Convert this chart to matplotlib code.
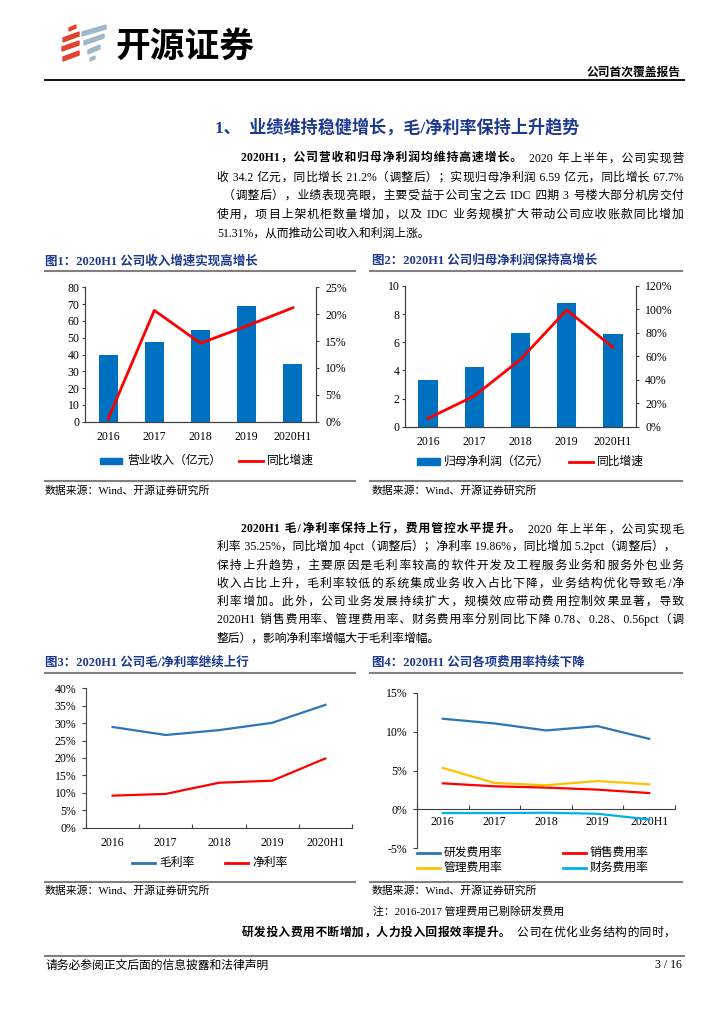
import numpy as np
import matplotlib.pyplot as plt
from matplotlib.lines import Line2D
from matplotlib.patches import Rectangle, Polygon

# data
years = ['2016', '2017', '2018', '2019', '2020H1']
revenue = [39.5, 47.6, 54.6, 68.7, 34.2]          # 营业收入（亿元）
revenue_yoy = [0.5, 20.7, 14.6, 17.8, 21.2]       # 同比增速 %
net_profit = [3.32, 4.22, 6.68, 8.77, 6.59]       # 归母净利润（亿元）
net_profit_yoy = [7.1, 26.2, 57.4, 99.5, 67.7]    # 同比增速 %
gross_margin = [28.9, 26.6, 28.0, 30.1, 35.25]    # 毛利率 %
net_margin = [9.2, 9.7, 12.9, 13.5, 19.86]        # 净利率 %
rd_rate = [11.65, 11.05, 10.15, 10.7, 9.07]       # 研发费用率 %
sales_rate = [3.35, 2.97, 2.8, 2.54, 2.1]         # 销售费用率 %
admin_rate = [5.33, 3.4, 3.1, 3.65, 3.22]         # 管理费用率 %
fin_rate = [-0.47, -0.47, -0.43, -0.56, -1.29]    # 财务费用率 %

W, H = 724, 1024
FONT = ['Liberation Serif', 'Noto Sans CJK SC', 'DejaVu Sans']
plt.rcParams['font.family'] = FONT
plt.rcParams['axes.unicode_minus'] = False

NAVY = '#1D3A8F'
BAR = '#0070C0'
RED = '#FF0000'
AX = '#404040'
GREY = '#808080'
HS = '\u200a'  # hair space, used to justify body lines
PUNCT = '，。；：、）'

fig = plt.figure(figsize=(7.24, 10.24), dpi=100)
renderer = fig.canvas.get_renderer()


def fx(x):
    return x / W


def fy(y):
    return 1 - y / H


def box(l, t, r, b):
    return [fx(l), fy(b), (r - l) / W, (b - t) / H]


def hline(x0, x1, y, color=GREY, lw=1.5):
    fig.add_artist(Line2D([fx(x0), fx(x1)], [fy(y), fy(y)], color=color, lw=lw,
                          transform=fig.transFigure))


def label(x, y, s, size=8.5, **kw):
    kw.setdefault('va', 'center')
    fig.text(fx(x), fy(y), s, fontsize=size, **kw)


def measure(s, size, bold):
    t = fig.text(0, 0, s, fontsize=size, fontweight='bold' if bold else 'normal')
    w = t.get_window_extent(renderer).width
    t.remove()
    return w


def is_cjk(c):
    return ord(c) > 0x2E80


def slots(s):
    return [i for i in range(len(s) - 1)
            if is_cjk(s[i]) or is_cjk(s[i + 1]) or s[i] == ' ' or s[i + 1] == ' ']


def text_line(segs, x0, y, x1=None, size=8.5, color='black'):
    # one Text per segment; justified lines get hair spaces between characters
    em = size * 100 / 72
    hs_w = (measure('a' + HS * 20 + 'a', size, False) - measure('aa', size, False)) / 20
    if segs[0][0][0] == '（':
        x0 += 0.5 * em
    tails = [0.5 * em if s[-1] in PUNCT else 0 for s, b in segs]
    widths = [measure(s, size, b) for s, b in segs]
    out = [s for s, b in segs]
    joint = 0
    if x1 is not None:
        end = x1 - (0.7 * em if segs[-1][0][-1] in PUNCT else 0)
        natural = sum(widths) + sum(tails[:-1])
        n_slots = sum(len(slots(s)) for s, b in segs) + len(segs) - 1
        per = (end - x0 - natural) / hs_w / n_slots
        joint = per * hs_w
        acc = 0.0
        out = []
        for s, b in segs:
            sl = set(slots(s))
            buf = ''
            for i, c in enumerate(s):
                buf += c
                if i in sl:
                    acc += per
                    k = int(round(acc))
                    acc -= k
                    buf += HS * k
            out.append(buf)
        widths = [measure(s, size, b) for s, (_, b) in zip(out, segs)]
    cur = x0
    base = y + 0.36 * em
    for s, (_, bold), w, tail in zip(out, segs, widths, tails):
        fig.text(fx(cur), fy(base), s, fontsize=size, va='baseline', ha='left',
                 fontweight='bold' if bold else 'normal', color=color)
        cur += w + tail + joint


# ---------------- header ----------------
red_logo = '#E1412F'
grey_logo = '#9FB7C9'
for (xl, yl, xr, yr, th, c) in [(69, 31, 76, 28, 3, red_logo), (63, 42, 79, 36, 4, red_logo),
                               (62, 51, 79, 45, 4, red_logo), (63, 61, 79, 55, 4, red_logo),
                               (82, 36, 106, 29, 4, grey_logo), (84, 45, 104, 38, 4, grey_logo),
                               (88, 54, 100, 49, 4, grey_logo), (90, 61, 95, 59, 3, grey_logo)]:
    pts = [(fx(xl), fy(yl)), (fx(xr), fy(yr)), (fx(xr), fy(yr - th)), (fx(xl), fy(yl - th))]
    fig.add_artist(Polygon(pts, closed=True, color=c, transform=fig.transFigure))
label(115, 46, '开源证券', size=25, fontweight='bold', family=['Noto Sans CJK SC'])
label(681, 73, '公司首次覆盖报告', size=8.5, ha='right', fontweight='bold')
hline(45, 684, 80, color='black', lw=1.3)

# ---------------- section 1 ----------------
label(215, 128, '1、  业绩维持稳健增长，毛/净利率保持上升趋势', size=12.3, color=NAVY, fontweight='bold')

para1 = [
    ([('2020H1，公司营收和归母净利润均维持高速增长。', True), ('2020 年上半年，公司实现营', False)], 241, True),
    ([('收 34.2 亿元，同比增长 21.2%（调整后）；实现归母净利润 6.59 亿元，同比增长 67.7%', False)], 217, True),
    ([('（调整后），业绩表现亮眼，主要受益于公司宝之云 IDC 四期 3 号楼大部分机房交付', False)], 217, True),
    ([('使用，项目上架机柜数量增加，以及 IDC 业务规模扩大带动公司应收账款同比增加', False)], 217, True),
    ([('51.31%，从而推动公司收入和利润上涨。', False)], 217, False),
]
for i, (segs, x0, just) in enumerate(para1):
    text_line(segs, x0, 157 + i * 18.8, 684 if just else None)

# ---------------- figure 1 & 2 ----------------
label(45, 261, '图1：2020H1 公司收入增速实现高增长', size=9, color=NAVY, fontweight='bold')
label(372, 261, '图2：2020H1 公司归母净利润保持高增长', size=9, color=NAVY, fontweight='bold')
hline(45, 355, 271)
hline(370, 682, 271)

x = np.arange(len(years))


def bar_line_chart(rect, bars, yoy, ymax, ystep, rmax, rstep, bw):
    ax = fig.add_axes(rect)
    ax.bar(x, bars, width=bw, color=BAR)
    ax.set_xlim(-0.5, 4.5)
    ax.set_ylim(0, ymax)
    ax.set_yticks(np.arange(0, ymax + 0.1, ystep))
    ax.set_xticks(x, years)
    ax.tick_params(axis='x', length=0, pad=7, labelsize=8.5)
    ax.tick_params(axis='y', direction='out', length=2.5, width=0.8, pad=1.5, labelsize=8.5, color=AX)
    axr = ax.twinx()
    axr.plot(x, yoy, color=RED, lw=2)
    axr.set_ylim(0, rmax)
    ticks = np.arange(0, rmax + 0.1, rstep)
    axr.set_yticks(ticks, [f'{int(v)}%' for v in ticks])
    axr.tick_params(axis='y', direction='out', length=2.5, width=0.8, pad=4, labelsize=8.5, color=AX)
    for a in (ax, axr):
        a.spines['top'].set_visible(False)
        for s in ('left', 'bottom', 'right'):
            a.spines[s].set_color(AX)
            a.spines[s].set_linewidth(0.8)
    return ax


bar_line_chart(box(85, 287.3, 316, 421.7), revenue, revenue_yoy, 80, 10, 25, 5, 0.41)
bar_line_chart(box(405, 286, 636, 426.7), net_profit, net_profit_yoy, 10, 2, 120, 20, 0.42)

fig.add_artist(Rectangle((fx(100), fy(464.3)), 22 / W, 6.6 / H, color=BAR, transform=fig.transFigure))
label(127, 461, '营业收入（亿元）')
fig.add_artist(Line2D([fx(239), fx(263)], [fy(461), fy(461)], color=RED, lw=2, transform=fig.transFigure))
label(267, 461, '同比增速')

fig.add_artist(Rectangle((fx(417), fy(465)), 23 / W, 6.6 / H, color=BAR, transform=fig.transFigure))
label(444, 461.7, '归母净利润（亿元）')
fig.add_artist(Line2D([fx(569), fx(593)], [fy(461.7), fy(461.7)], color=RED, lw=2, transform=fig.transFigure))
label(597, 461.7, '同比增速')

hline(45, 355, 481)
hline(370, 682, 481)
label(45, 491, '数据来源：Wind、开源证券研究所', size=7.8)
label(372, 491, '数据来源：Wind、开源证券研究所', size=7.8)

# ---------------- paragraph 2 ----------------
para2 = [
    ([('2020H1 毛/净利率保持上行，费用管控水平提升。', True), ('2020 年上半年，公司实现毛', False)], 241, True),
    ([('利率 35.25%，同比增加 4pct（调整后）；净利率 19.86%，同比增加 5.2pct（调整后），', False)], 217, True),
    ([('保持上升趋势，主要原因是毛利率较高的软件开发及工程服务业务和服务外包业务', False)], 217, True),
    ([('收入占比上升，毛利率较低的系统集成业务收入占比下降，业务结构优化导致毛/净', False)], 217, True),
    ([('利率增加。此外，公司业务发展持续扩大，规模效应带动费用控制效果显著，导致', False)], 217, True),
    ([('2020H1 销售费用率、管理费用率、财务费用率分别同比下降 0.78、0.28、0.56pct（调', False)], 217, True),
    ([('整后），影响净利率增幅大于毛利率增幅。', False)], 217, False),
]
for i, (segs, x0, just) in enumerate(para2):
    text_line(segs, x0, 528 + i * 18.2, 684 if just else None)

# ---------------- figure 3 & 4 ----------------
label(45, 662.7, '图3：2020H1 公司毛/净利率继续上行', size=9, color=NAVY, fontweight='bold')
label(372, 662.7, '图4：2020H1 公司各项费用率持续下降', size=9, color=NAVY, fontweight='bold')
hline(45, 355, 673)
hline(370, 682, 673)


def line_axes(rect, ylo, yhi, ystep):
    ax = fig.add_axes(rect)
    ax.set_xlim(-0.5, 4.5)
    ax.set_ylim(ylo, yhi)
    ticks = np.arange(ylo, yhi + 0.1, ystep)
    ax.set_yticks(ticks, [f'{int(v)}%' for v in ticks])
    ax.set_xticks(x, years)
    ax.set_xticks(np.arange(-0.5, 5, 1), minor=True)
    ax.tick_params(axis='x', which='major', length=0, pad=7, labelsize=8.5)
    ax.tick_params(axis='x', which='minor', direction='in', length=3, width=0.8, color=AX)
    ax.tick_params(axis='y', direction='out', length=3, width=0.8, pad=4, labelsize=8.5, color=AX)
    for s in ('top', 'right'):
        ax.spines[s].set_visible(False)
    for s in ('left', 'bottom'):
        ax.spines[s].set_color(AX)
        ax.spines[s].set_linewidth(0.8)
    return ax


ax3 = line_axes(box(86, 688.3, 352, 827.7), 0, 40, 5)
ax3.plot(x, gross_margin, color='#2E75B6', lw=1.6)
ax3.plot(x, net_margin, color=RED, lw=1.6)

ax4 = line_axes(box(417, 692.7, 675, 848.3), -5, 15, 5)
ax4.spines['bottom'].set_position(('data', 0))
ax4.tick_params(axis='x', which='major', pad=5)
ax4.plot(x, rd_rate, color='#2E75B6', lw=1.6)
ax4.plot(x, sales_rate, color=RED, lw=1.6)
ax4.plot(x, admin_rate, color='#FFC000', lw=1.6)
ax4.plot(x, fin_rate, color='#00B0F0', lw=1.6)

for (x0, y, c, s) in [(132, 863, '#2E75B6', '毛利率'), (225, 863, RED, '净利率'),
                      (417, 853.3, '#2E75B6', '研发费用率'), (563, 853.3, RED, '销售费用率'),
                      (417, 868.3, '#FFC000', '管理费用率'), (563, 868.3, '#00B0F0', '财务费用率')]:
    fig.add_artist(Line2D([fx(x0), fx(x0 + 23)], [fy(y), fy(y)], color=c, lw=2, transform=fig.transFigure))
    label(x0 + 27, y, s)

hline(45, 355, 882)
hline(370, 682, 882)
label(45, 891, '数据来源：Wind、开源证券研究所', size=7.8)
label(372, 891, '数据来源：Wind、开源证券研究所', size=7.8)
label(373, 911.5, '注：2016-2017 管理费用已剔除研发费用', size=7.8)

text_line([('研发投入费用不断增加，人力投入回报效率提升。', True), ('公司在优化业务结构的同时，', False)],
          242, 931, 684)

# ---------------- footer ----------------
hline(45, 684, 955.5)
label(45, 965.5, '请务必参阅正文后面的信息披露和法律声明', size=8.5)
label(682, 965.5, '3 / 16', size=8.5, ha='right')

fig.savefig('out.png', dpi=100)
